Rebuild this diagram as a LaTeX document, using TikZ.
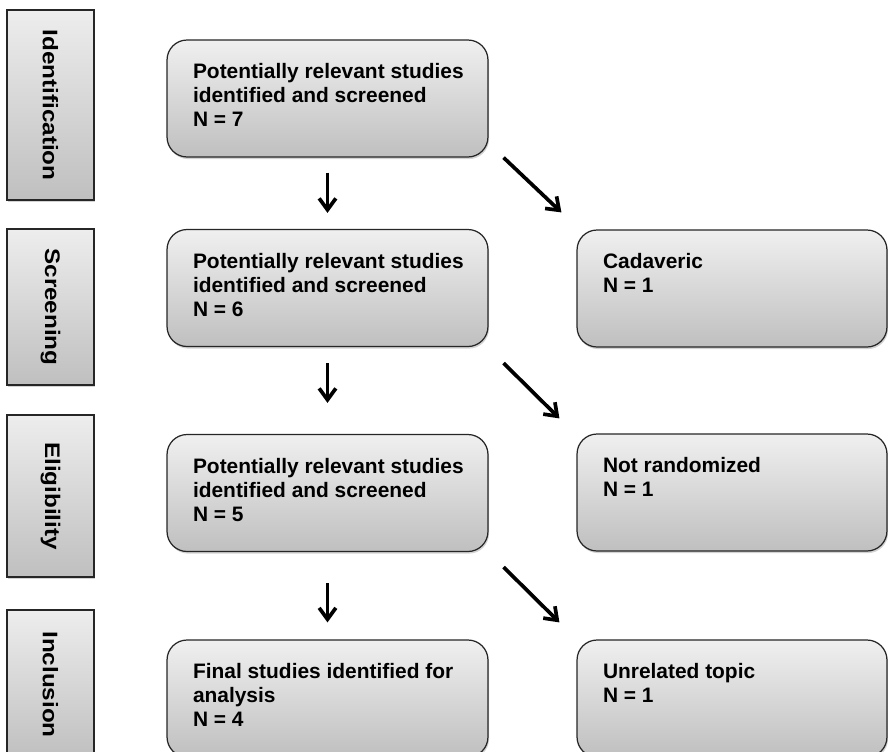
\documentclass[tikz,border=0pt]{standalone}
\usepackage{fontspec}
\setmainfont{Liberation Sans}
\usetikzlibrary{arrows.meta,shadows}
\tikzset{phase/.style={draw=black!85, line width=0.7pt, top color=black!7, bottom color=black!25, minimum width=1.74cm, inner sep=0pt, drop shadow={opacity=0.35, shadow xshift=0.6pt, shadow yshift=-1.2pt}, font=\fontsize{12}{14}\selectfont\bfseries},
         stage/.style={draw=black!85, line width=0.7pt, rounded corners=0.4cm, top color=black!6, bottom color=black!25, minimum height=2.34cm, inner xsep=0.52cm, inner ysep=0pt, drop shadow={opacity=0.35, shadow xshift=0.6pt, shadow yshift=-1.2pt}, font=\fontsize{11.9}{13.65}\selectfont\bfseries},
         flow/.style={line width=2.1pt, -{Straight Barb[length=6.5pt,width=9.5pt]}}}
\newcommand{\boxtext}[2]{\makebox[#1][l]{\parbox[c][1.4cm][t]{6cm}{\raggedright #2}}}
\newcommand{\phasetext}[1]{\rotatebox{-90}{\scalebox{1.15}[1]{#1}}}

\begin{document}
\begin{tikzpicture}[x=0.02cm, y=-0.02cm]
  \clip (0,0) rectangle (888,751);
  \node[phase, minimum height=3.80cm] (p1) at (50.5,105) {\phasetext{Identification}};
  \node[phase, minimum height=3.12cm] (p2) at (50.5,307) {\phasetext{Screening}};
  \node[phase, minimum height=3.24cm] (p3) at (50.5,496) {\phasetext{Eligibility}};
  \node[phase, minimum height=2.98cm] (p4) at (50.5,684.5) {\phasetext{Inclusion}};

  \node[stage] (s1) at (327.5,98.5) {\boxtext{5.38cm}{Potentially relevant studies\\identified and screened\\N = 7}};
  \node[stage] (s2) at (327.5,288) {\boxtext{5.38cm}{Potentially relevant studies\\identified and screened\\N = 6}};
  \node[stage] (s3) at (327.5,493) {\boxtext{5.38cm}{Potentially relevant studies\\identified and screened\\N = 5}};
  \node[stage] (s4) at (327.5,698.5) {\boxtext{5.38cm}{Final studies identified for\\analysis\\N = 4}};

  \node[stage] (x1) at (732,288.5) {\boxtext{5.16cm}{Cadaveric\\N = 1}};
  \node[stage] (x2) at (732,492.5) {\boxtext{5.16cm}{Not randomized\\N = 1}};
  \node[stage] (x3) at (732,698.5) {\boxtext{5.16cm}{Unrelated topic\\N = 1}};

  \draw[flow] ([shift={(0,15)}]s1.south) -- ([shift={(0,-16)}]s2.north);
  \draw[flow] ([shift={(0,16)}]s2.south) -- ([shift={(0,-31)}]s3.north);
  \draw[flow] ([shift={(0,31)}]s3.south) -- ([shift={(0,-17)}]s4.north);
  \draw[flow] ([shift={(15,0)}]s1.south east) -- ([shift={(-15,-17)}]x1.north west);
  \draw[flow] ([shift={(15,16)}]s2.south east) -- ([shift={(-17,-15)}]x2.north west);
  \draw[flow] ([shift={(15,15)}]s3.south east) -- ([shift={(-17,-17)}]x3.north west);
\end{tikzpicture}
\end{document}
